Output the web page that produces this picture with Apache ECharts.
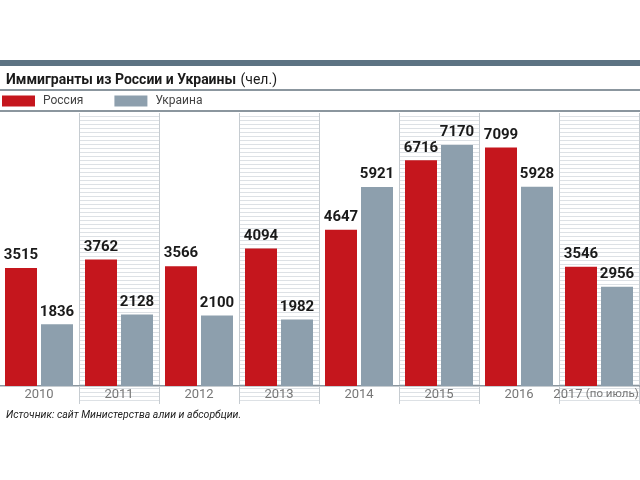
<!DOCTYPE html>
<html>
<head>
<meta charset="utf-8">
<script src="https://cdn.jsdelivr.net/npm/echarts@6/dist/echarts.min.js"></script>
<style>html,body{margin:0;padding:0;background:#fff;overflow:hidden}#c{width:640px;height:480px}</style>
</head>
<body>
<div id="c"></div>
<script>
var categories = ['2010','2011','2012','2013','2014','2015','2016','2017 (по июль)'];
var russia = [3515, 3762, 3566, 4094, 4647, 6716, 7099, 3546];
var ukraine = [1836, 2128, 2100, 1982, 5921, 7170, 5928, 2956];
var seriesNames = ['Россия', 'Украина'];
var titleBold = 'Иммигранты из России и Украины';
var titleUnit = '(чел.)';
var sourceText = 'Источник: сайт Министерства алии и абсорбции.';

var pc = document.createElement('canvas');
pc.width = 4; pc.height = 4;
var g = pc.getContext('2d');
g.fillStyle = '#ffffff'; g.fillRect(0,0,4,4);
g.fillStyle = '#dde1e5'; g.fillRect(0,0,4,1);

var font = 'Roboto, sans-serif';
var gridLine = '#8b969e';

var chart = echarts.init(document.getElementById('c'), null, { width: 640, height: 480 });
chart.setOption({
  animation: false,
  backgroundColor: '#ffffff',
  textStyle: { fontFamily: font },
  graphic: [
    { type: 'rect', shape: { x: 0, y: 60, width: 640, height: 6 }, style: { fill: '#5d7383' }, silent: true },
    { type: 'rect', shape: { x: 0, y: 89, width: 640, height: 2 }, style: { fill: gridLine }, silent: true },
    { type: 'rect', shape: { x: 0, y: 110, width: 640, height: 2 }, style: { fill: gridLine }, silent: true }
  ],
  title: [{
    text: '{b|' + titleBold + '} {n|' + titleUnit + '}',
    left: 1, top: 66,
    textStyle: {
      rich: {
        b: { fontFamily: font, fontWeight: 'bold', fontSize: 14, color: '#1a1a1a' },
        n: { fontFamily: font, fontWeight: 'normal', fontSize: 14, color: '#1a1a1a' }
      }
    }
  }, {
    text: sourceText,
    left: 1, top: 405,
    textStyle: { fontFamily: font, fontStyle: 'italic', fontWeight: 'normal', fontSize: 10.5, color: '#222' }
  }],
  legend: {
    data: seriesNames,
    left: 2, top: 95,
    itemWidth: 33, itemHeight: 11, itemGap: 31,
    icon: 'rect',
    padding: 0,
    textStyle: { fontFamily: font, fontSize: 12, color: '#444', padding: [0,0,0,3] }
  },
  grid: { left: -1, width: 640, top: 113, height: 291, containLabel: false, outerBoundsMode: 'none' },
  xAxis: {
    type: 'category',
    data: categories,
    boundaryGap: true,
    axisLine: { show: true, lineStyle: { color: gridLine, width: 2 } },
    axisTick: { show: false },
    axisLabel: {
      interval: 0, inside: true, margin: 3, fontFamily: font, fontSize: 13, color: '#777',
      formatter: function (v) {
        var i = v.indexOf(' (');
        return i < 0 ? '{y|' + v + '}' : '{y|' + v.slice(0, i) + '} {s|' + v.slice(i + 1) + '}';
      },
      rich: {
        y: { fontFamily: font, fontSize: 13, color: '#777' },
        s: { fontFamily: font, fontSize: 11.5, color: '#777', padding: [0, 6, 0, 0] }
      }
    },
    splitLine: { show: true, interval: 0, lineStyle: { color: '#c6ccd1', width: 1 } },
    splitArea: { show: true, interval: 0, areaStyle: { color: ['rgba(255,255,255,0)', { image: pc, repeat: 'repeat' }] } }
  },
  yAxis: {
    type: 'value', min: -536, max: 8125, show: false,
    splitLine: { show: false }
  },
  series: [{
    name: seriesNames[0], type: 'bar', data: russia,
    barWidth: 32, barGap: '12.5%',
    itemStyle: { color: '#c5161d' },
    label: { show: true, position: 'top', distance: 5, fontFamily: font, fontWeight: 'bold', fontSize: 15, color: '#1a1a1a' },
    markLine: { silent: true, symbol: 'none', label: { show: false }, lineStyle: { color: '#c6ccd1', width: 1, type: 'solid' }, data: [{ yAxis: 0 }] }
  }, {
    name: seriesNames[1], type: 'bar', data: ukraine,
    barWidth: 32,
    itemStyle: { color: '#8d9fad' },
    label: { show: true, position: 'top', distance: 5, fontFamily: font, fontWeight: 'bold', fontSize: 15, color: '#1a1a1a' }
  }]
});
</script>
</body>
</html>
